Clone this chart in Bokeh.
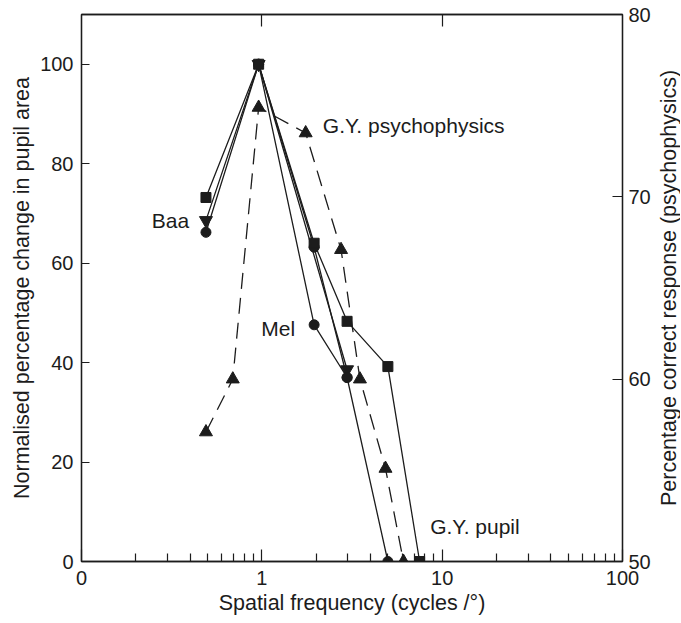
from bokeh.plotting import figure
from bokeh.layouts import row
from bokeh.models import Range1d, LinearAxis, LogAxis, FixedTicker, Label
from bokeh.embed import file_html
from bokeh.resources import INLINE

# ---- data ----
x_tick_values = [0.1, 1, 10, 100]
x_tick_labels = ["0", "1", "10", "100"]
left_ticks = [0, 20, 40, 60, 80, 100]
right_ticks = [50, 60, 70, 80]

# G.Y. pupil (squares)
gy_pupil_x = [0.49, 0.96, 1.95, 2.97, 5.0, 7.5]
gy_pupil_y = [73.2, 100, 64.0, 48.3, 39.2, 0]

# Baa (inverted triangles)
baa_tri_x = [0.49, 0.96, 2.97]
baa_tri_y = [68.6, 100, 38.6]

# Baa (circles)
baa_circ_x = [0.49, 0.96, 1.95, 2.97, 5.0]
baa_circ_y = [66.2, 100, 63.2, 37.0, 0]

# Mel (circles)
mel_x = [0.96, 1.95, 2.97]
mel_y = [100, 47.6, 37.0]

# G.Y. psychophysics (triangles, right axis)
psy_x = [0.49, 0.69, 0.96, 1.75, 2.75, 3.5, 4.85, 6.1]
psy_y = [57.1, 60.0, 74.9, 73.5, 67.1, 60.0, 55.1, 50.0]

right_title = "Percentage correct response (psychophysics)"

INK = "#1c1c1c"
FONT = "Liberation Sans"
FS_TICK = "20px"
FS_ANN = "21px"
FS_AXIS = "21.5px"

H = 622
BL, BR, BT, BB = 81, 28, 14, 61
FRAME_W = 544
W = BL + FRAME_W + BR
W2 = 680 - W

p = figure(width=W, height=H, x_axis_type="log",
           x_range=Range1d(0.1, 100), y_range=Range1d(0, 110),
           output_backend="svg", toolbar_location=None,
           min_border_left=BL, min_border_right=BR,
           min_border_top=BT, min_border_bottom=BB)
p.extra_y_ranges = {"psy": Range1d(50, 80)}
p.xgrid.visible = False
p.ygrid.visible = False
p.outline_line_color = INK
p.outline_line_width = 1.3
p.background_fill_color = "white"
p.border_fill_color = "white"


def style_axis(ax):
    ax.axis_line_color = INK
    ax.axis_line_width = 1.3
    ax.major_tick_line_color = INK
    ax.minor_tick_line_color = INK
    ax.major_tick_line_width = 1.2
    ax.minor_tick_line_width = 1.2
    ax.major_tick_out = 0
    ax.minor_tick_out = 0
    ax.major_label_text_font = FONT
    ax.major_label_text_font_size = FS_TICK
    ax.major_label_text_color = INK
    ax.axis_label_text_font = FONT
    ax.axis_label_text_font_size = FS_AXIS
    ax.axis_label_text_font_style = "normal"
    ax.axis_label_text_color = INK


# bottom log axis
xa = p.xaxis[0]
minor = [m * d for d in (0.1, 1, 10) for m in range(2, 10)]
xa.ticker = FixedTicker(ticks=x_tick_values, minor_ticks=minor)
xa.major_label_overrides = dict(zip(x_tick_values, x_tick_labels))
style_axis(xa)
xa.major_tick_in = 12
xa.minor_tick_in = 8
xa.major_label_standoff = 9
xa.axis_label_standoff = 3
xa.axis_label = "Spatial frequency (cycles /°)"

# left axis
ya = p.yaxis[0]
ya.ticker = FixedTicker(ticks=left_ticks)
style_axis(ya)
ya.major_tick_in = 8
ya.minor_tick_in = 0
ya.major_label_standoff = 8
ya.axis_label_standoff = 3
ya.axis_label = "Normalised percentage change in pupil area"

# right axis (ticks + labels; its title lives in the slim panel below)
ra = LinearAxis(y_range_name="psy", ticker=FixedTicker(ticks=right_ticks))
style_axis(ra)
ra.major_tick_in = 10
ra.minor_tick_in = 0
ra.major_label_standoff = 6
p.add_layout(ra, "right")

# top axis (ticks only)
ta = LogAxis(ticker=FixedTicker(ticks=[1, 10]))
style_axis(ta)
ta.major_tick_in = 12
ta.minor_tick_in = 0
ta.major_label_text_font_size = "1px"
ta.major_label_text_alpha = 0
ta.major_label_standoff = 0
p.add_layout(ta, "above")

LW = 1.3
# pupil curves (solid)
p.line(gy_pupil_x, gy_pupil_y, line_color=INK, line_width=LW)
p.line(baa_tri_x, baa_tri_y, line_color=INK, line_width=LW)
p.line(baa_circ_x, baa_circ_y, line_color=INK, line_width=LW)
p.line(mel_x, mel_y, line_color=INK, line_width=LW)
# psychophysics (dashed)
p.line(psy_x, psy_y, y_range_name="psy", line_color=INK, line_width=LW,
       line_dash="16 9")

p.scatter(baa_tri_x, baa_tri_y, marker="inverted_triangle", size=13, color=INK)
p.scatter(baa_circ_x, baa_circ_y, marker="circle", size=10, color=INK)
p.scatter(mel_x, mel_y, marker="circle", size=10, color=INK)
p.scatter(psy_x, psy_y, y_range_name="psy", marker="triangle", size=13, color=INK)
p.scatter(gy_pupil_x, gy_pupil_y, marker="square", size=10, color=INK)


# text labels
def lab(x, y, t, align):
    p.add_layout(Label(x=x, y=y, text=t, text_font=FONT, text_font_size=FS_ANN,
                       text_color=INK, text_align=align, text_baseline="middle"))


lab(0.395, 68.6, "Baa", "right")
lab(1.53, 46.9, "Mel", "right")
lab(2.18, 87.7, "G.Y. psychophysics", "left")
lab(8.58, 7.1, "G.Y. pupil", "left")

# slim panel: an invisible left axis whose title reads bottom-to-top,
# vertically aligned with the main frame
p2 = figure(width=W2, height=H, y_range=Range1d(50, 80), x_range=Range1d(0, 1),
            output_backend="svg", toolbar_location=None,
            x_axis_location=None,
            min_border_left=W2 - 2, min_border_right=0,
            min_border_top=BT, min_border_bottom=BB)
p2.xgrid.visible = False
p2.ygrid.visible = False
p2.outline_line_color = None
p2.border_fill_color = "white"
p2.background_fill_color = "white"
ax2 = p2.yaxis[0]
ax2.ticker = FixedTicker(ticks=[65])
ax2.axis_line_color = None
ax2.major_tick_line_color = None
ax2.minor_tick_line_color = None
ax2.major_tick_in = 0
ax2.major_tick_out = 0
ax2.minor_tick_in = 0
ax2.minor_tick_out = 0
ax2.major_label_text_font_size = "1px"
ax2.major_label_text_alpha = 0
ax2.major_label_standoff = 0
ax2.axis_label = right_title
ax2.axis_label_standoff = 0
ax2.axis_label_text_font = FONT
ax2.axis_label_text_font_size = FS_AXIS
ax2.axis_label_text_font_style = "normal"
ax2.axis_label_text_color = INK

layout = row(p, p2, spacing=0)
open("out.html", "w").write(file_html(layout, INLINE))
